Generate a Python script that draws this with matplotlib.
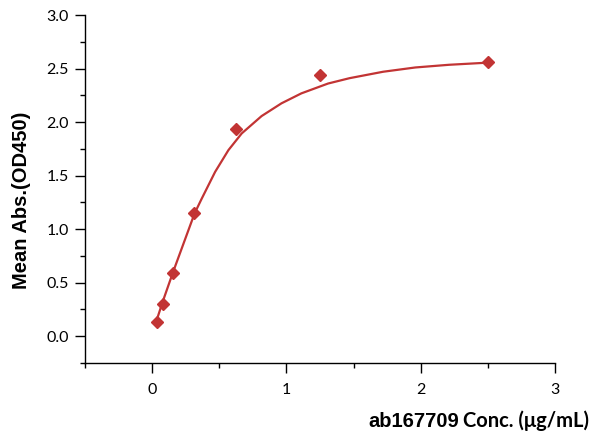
import matplotlib
matplotlib.use("Agg")
import matplotlib.pyplot as plt
from matplotlib.ticker import MultipleLocator

# measured points
conc = [0.039, 0.078, 0.156, 0.3125, 0.625, 1.25, 2.5]
absorb = [0.13, 0.30, 0.59, 1.15, 1.94, 2.44, 2.56]

# fitted curve
curve_x = [0.039, 0.078, 0.156, 0.316, 0.370, 0.469, 0.568, 0.667, 0.815,
           0.963, 1.111, 1.31, 1.47, 1.72, 1.96, 2.21, 2.5]
curve_y = [0.17, 0.32, 0.60, 1.147, 1.287, 1.535, 1.738, 1.894, 2.056,
           2.175, 2.268, 2.36, 2.41, 2.47, 2.51, 2.535, 2.555]

x_ticks = [0, 1, 2, 3]
y_ticks = [0.0, 0.5, 1.0, 1.5, 2.0, 2.5, 3.0]
y_tick_labels = ["0.0", "0.5", "1.0", "1.5", "2.0", "2.5", "3.0"]

red = "#c23434"

fig = plt.figure(figsize=(6, 4.4), dpi=100)
ax = fig.add_axes([85/600, 1-363/440, (555-85)/600, (363-15)/440])

ax.plot(curve_x, curve_y, color=red, lw=1.6, solid_capstyle="round",
        solid_joinstyle="round", zorder=2)
ax.plot(conc, absorb, ls="none", marker="D", ms=6, color=red, mec=red, zorder=3)

ax.set_xlim(-0.5, 3)
ax.set_ylim(-0.25, 3.0)
ax.set_xticks(x_ticks)
ax.set_xticklabels([str(t) for t in x_ticks])
ax.set_yticks(y_ticks)
ax.set_yticklabels(y_tick_labels)
ax.xaxis.set_minor_locator(MultipleLocator(0.5))
ax.yaxis.set_minor_locator(MultipleLocator(0.25))

for s in ["top", "right"]:
    ax.spines[s].set_visible(False)
for s in ["left", "bottom"]:
    ax.spines[s].set_linewidth(1.0)
ax.tick_params(which="major", length=7.5, width=1.0, direction="out", pad=4,
               labelsize=11.5, colors="black")
ax.tick_params(which="minor", length=3.5, width=1.0, direction="out")
for lab in ax.get_xticklabels() + ax.get_yticklabels():
    lab.set_fontfamily("Lato")

ax.xaxis.set_tick_params(pad=7)

fig.text(22/600, 1-200/440, "Mean Abs.(OD450)", rotation=90, ha="center", va="center",
         fontsize=14.5, fontweight="bold", family="Liberation Sans")
fig.text(459/600, 1-421/440, "ab167709", ha="right", va="center",
         fontsize=14.5, fontweight="bold", family="Liberation Sans")
fig.text(463/600, 1-421/440, "Conc. (μg/mL)", ha="left", va="center",
         fontsize=14.5, fontweight="bold", family="Lato")

fig.savefig("out.png", dpi=100)
